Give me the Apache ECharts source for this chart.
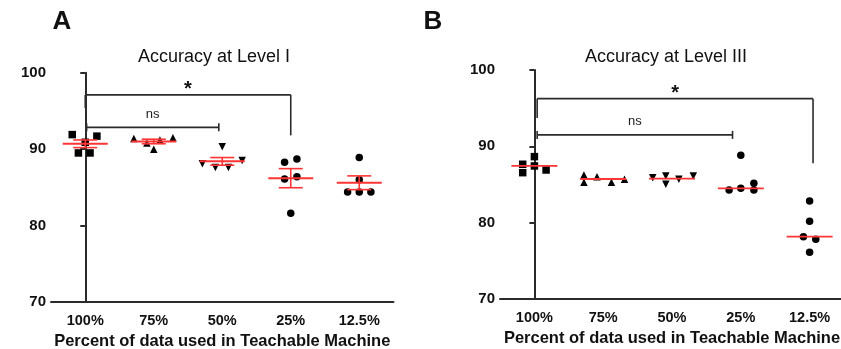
<!DOCTYPE html>
<html>
<head>
<meta charset="utf-8">
<script src="https://cdn.jsdelivr.net/npm/echarts@6/dist/echarts.min.js"></script>
<style>
  html, body { margin: 0; padding: 0; background: #fff; }
  #chart { width: 841px; height: 349px; }
</style>
</head>
<body>
<div id="chart"></div>
<script>
// categories on both panels
const categories = ['100%', '75%', '50%', '25%', '12.5%'];

// Level I accuracy, five runs per category
const levelIPoints = [
  [91.9, 91.7, 89.5, 89.5, 90.9],
  [91.4, 90.8, 91.2, 91.5, 90.0],
  [90.3, 88.1, 87.6, 87.6, 88.5],
  [88.3, 88.7, 86.1, 86.4, 81.6],
  [88.9, 86.0, 84.4, 84.4, 84.4]
];
const levelIMean = [90.7, 91.0, 88.4, 86.2, 85.6];
const levelISem = [0.5, 0.3, 0.5, 1.25, 0.9];

// Level III accuracy, five runs per category
const levelIIIPoints = [
  [87.65, 88.65, 87.43, 86.55, 86.9],
  [86.25, 86.03, 85.29, 85.29, 85.69],
  [85.9, 86.12, 85.03, 85.69, 86.12],
  [88.83, 84.29, 84.5, 85.16, 84.29],
  [82.84, 80.18, 78.17, 77.82, 76.12]
];
const levelIIIMedian = [87.43, 85.72, 85.78, 84.5, 78.17];

// horizontal scatter spread (column scatter layout, in category units)
const jitterI = [
  [-0.19, 0.17, -0.10, 0.07, 0],
  [-0.29, -0.10, 0.09, 0.28, 0],
  [0, -0.29, -0.10, 0.09, 0.29],
  [-0.09, 0.09, -0.09, 0.09, 0],
  [0, 0, -0.17, 0, 0.17]
];
const jitterIII = [
  [-0.17, 0, 0, -0.17, 0.17],
  [-0.28, -0.09, -0.28, 0.12, 0.31],
  [-0.28, -0.09, -0.09, 0.10, 0.31],
  [0, -0.17, 0, 0.19, 0.19],
  [0, 0, -0.09, 0.09, 0]
];

const yTicks = [70, 80, 90, 100];

// significance brackets: [from, to, top, leftEnd, rightEnd, label]
const bracketsI = [
  [0, 3, 97.1, 95.4, 91.8, '*'],
  [0.02, 1.95, 92.85, null, null, 'ns']
];
const bracketsIII = [
  [0.04, 4.05, 96.25, 93.7, 87.8, '*'],
  [0.04, 2.88, 91.5, null, null, 'ns']
];

const symbols = ['rect', 'triangle', 'triangle', 'circle', 'circle'];
const rotations = [0, 0, 180, 0, 0];

const FONT = '"Liberation Sans", Arial, sans-serif';
const RED = '#ff3535';
const AXIS = '#2b2b2b';

const chart = echarts.init(document.getElementById('chart'));

function scatterSeries(points, jitter, xIdx, yIdx) {
  return points.map((vals, c) => ({
    type: 'scatter',
    xAxisIndex: xIdx,
    yAxisIndex: yIdx,
    symbol: symbols[c],
    symbolRotate: rotations[c],
    symbolSize: 7.5,
    itemStyle: { color: '#000', opacity: 1 },
    silent: true,
    z: 2,
    data: vals.map((v, i) => [c + jitter[c][i], v])
  }));
}

function meanSemRender(params, api) {
  const x = api.value(0), m = api.value(1), s = api.value(2);
  const c = api.coord([x, m]);
  const hi = api.coord([x, m + s]);
  const lo = api.coord([x, m - s]);
  const st = { stroke: RED, lineWidth: 1.6 };
  return {
    type: 'group',
    children: [
      { type: 'line', shape: { x1: c[0] - 22.5, y1: c[1], x2: c[0] + 22.5, y2: c[1] }, style: { stroke: RED, lineWidth: 2 } },
      { type: 'line', shape: { x1: c[0], y1: hi[1], x2: c[0], y2: lo[1] }, style: st },
      { type: 'line', shape: { x1: c[0] - 12, y1: hi[1], x2: c[0] + 12, y2: hi[1] }, style: st },
      { type: 'line', shape: { x1: c[0] - 12, y1: lo[1], x2: c[0] + 12, y2: lo[1] }, style: st }
    ]
  };
}

function medianRender(params, api) {
  const c = api.coord([api.value(0), api.value(1)]);
  return {
    type: 'line',
    shape: { x1: c[0] - 23, y1: c[1], x2: c[0] + 23, y2: c[1] },
    style: { stroke: RED, lineWidth: 1.8 }
  };
}

function bracketRender(list) {
  return function (params, api) {
    const b = list[api.value(0)];
    const p1 = api.coord([b[0], b[2]]);
    const p2 = api.coord([b[1], b[2]]);
    const st = { stroke: AXIS, lineWidth: 1.6 };
    const kids = [{ type: 'line', shape: { x1: p1[0], y1: p1[1], x2: p2[0], y2: p2[1] }, style: st }];
    if (b[3] !== null) {
      const l = api.coord([b[0], b[3]]);
      const r = api.coord([b[1], b[4]]);
      kids.push({ type: 'line', shape: { x1: p1[0], y1: p1[1], x2: p1[0], y2: l[1] }, style: st });
      kids.push({ type: 'line', shape: { x1: p2[0], y1: p2[1], x2: p2[0], y2: r[1] }, style: st });
    } else {
      kids.push({ type: 'line', shape: { x1: p1[0], y1: p1[1] - 4, x2: p1[0], y2: p1[1] + 4 }, style: st });
      kids.push({ type: 'line', shape: { x1: p2[0], y1: p2[1] - 4, x2: p2[0], y2: p2[1] + 4 }, style: st });
    }
    const star = b[5] === '*';
    kids.push({
      type: 'text',
      x: (p1[0] + p2[0]) / 2,
      y: p1[1] - (star ? 5 : 13),
      style: {
        text: b[5],
        fill: star ? '#111' : '#222',
        font: (star ? 'bold 20px ' : '13px ') + FONT,
        textAlign: 'center',
        textVerticalAlign: 'middle'
      }
    });
    return { type: 'group', children: kids };
  };
}

function catAxis(gridIndex) {
  return {
    type: 'category',
    gridIndex: gridIndex,
    data: categories,
    axisLine: { lineStyle: { color: AXIS, width: 2 } },
    axisTick: { show: false },
    axisLabel: { color: '#111', fontFamily: FONT, fontWeight: 'bold', fontSize: 14.5, margin: 11 },
    name: 'Percent of data used in Teachable Machine',
    nameLocation: 'middle',
    nameGap: 31,
    nameTextStyle: { color: '#111', fontFamily: FONT, fontWeight: 'bold', fontSize: 16.5 }
  };
}

function valXAxis(gridIndex) {
  return { type: 'value', gridIndex: gridIndex, min: -0.5, max: 4.5, show: false };
}

function valYAxis(gridIndex) {
  return {
    type: 'value',
    gridIndex: gridIndex,
    min: yTicks[0],
    max: yTicks[yTicks.length - 1],
    interval: 10,
    splitLine: { show: false },
    axisLine: { show: true, lineStyle: { color: AXIS, width: 2 } },
    axisTick: { show: true, length: 5, lineStyle: { color: AXIS, width: 2 } },
    axisLabel: { color: '#111', fontFamily: FONT, fontWeight: 'bold', fontSize: 15, margin: 5 }
  };
}

const option = {
  animation: false,
  backgroundColor: '#fff',
  grid: [
    { left: 51, top: 72.7, width: 342.5, height: 229.3, outerBoundsMode: 'none' },
    { left: 500, top: 70, width: 344, height: 229, outerBoundsMode: 'none' }
  ],
  xAxis: [catAxis(0), valXAxis(0), catAxis(1), valXAxis(1)],
  yAxis: [valYAxis(0), valYAxis(1)],
  graphic: [
    { type: 'text', x: 62, y: 22, style: { text: 'A', font: 'bold 26px ' + FONT, fill: '#111', textAlign: 'center', textVerticalAlign: 'middle' } },
    { type: 'text', x: 433, y: 22, style: { text: 'B', font: 'bold 26px ' + FONT, fill: '#111', textAlign: 'center', textVerticalAlign: 'middle' } },
    { type: 'text', x: 214, y: 57, style: { text: 'Accuracy at Level I', font: '18px ' + FONT, fill: '#111', textAlign: 'center', textVerticalAlign: 'middle' } },
    { type: 'text', x: 666, y: 57, style: { text: 'Accuracy at Level III', font: '18px ' + FONT, fill: '#111', textAlign: 'center', textVerticalAlign: 'middle' } }
  ],
  series: [
    ...scatterSeries(levelIPoints, jitterI, 1, 0),
    ...scatterSeries(levelIIIPoints, jitterIII, 3, 1),
    {
      type: 'custom', xAxisIndex: 1, yAxisIndex: 0, z: 3, silent: true, clip: false,
      renderItem: meanSemRender,
      data: levelIMean.map((m, i) => [i, m, levelISem[i]])
    },
    {
      type: 'custom', xAxisIndex: 3, yAxisIndex: 1, z: 3, silent: true, clip: false,
      renderItem: medianRender,
      data: levelIIIMedian.map((m, i) => [i, m])
    },
    {
      type: 'custom', xAxisIndex: 1, yAxisIndex: 0, z: 3, silent: true, clip: false,
      renderItem: bracketRender(bracketsI),
      data: bracketsI.map((b, i) => [i])
    },
    {
      type: 'custom', xAxisIndex: 3, yAxisIndex: 1, z: 3, silent: true, clip: false,
      renderItem: bracketRender(bracketsIII),
      data: bracketsIII.map((b, i) => [i])
    }
  ]
};

chart.setOption(option);
</script>
</body>
</html>
